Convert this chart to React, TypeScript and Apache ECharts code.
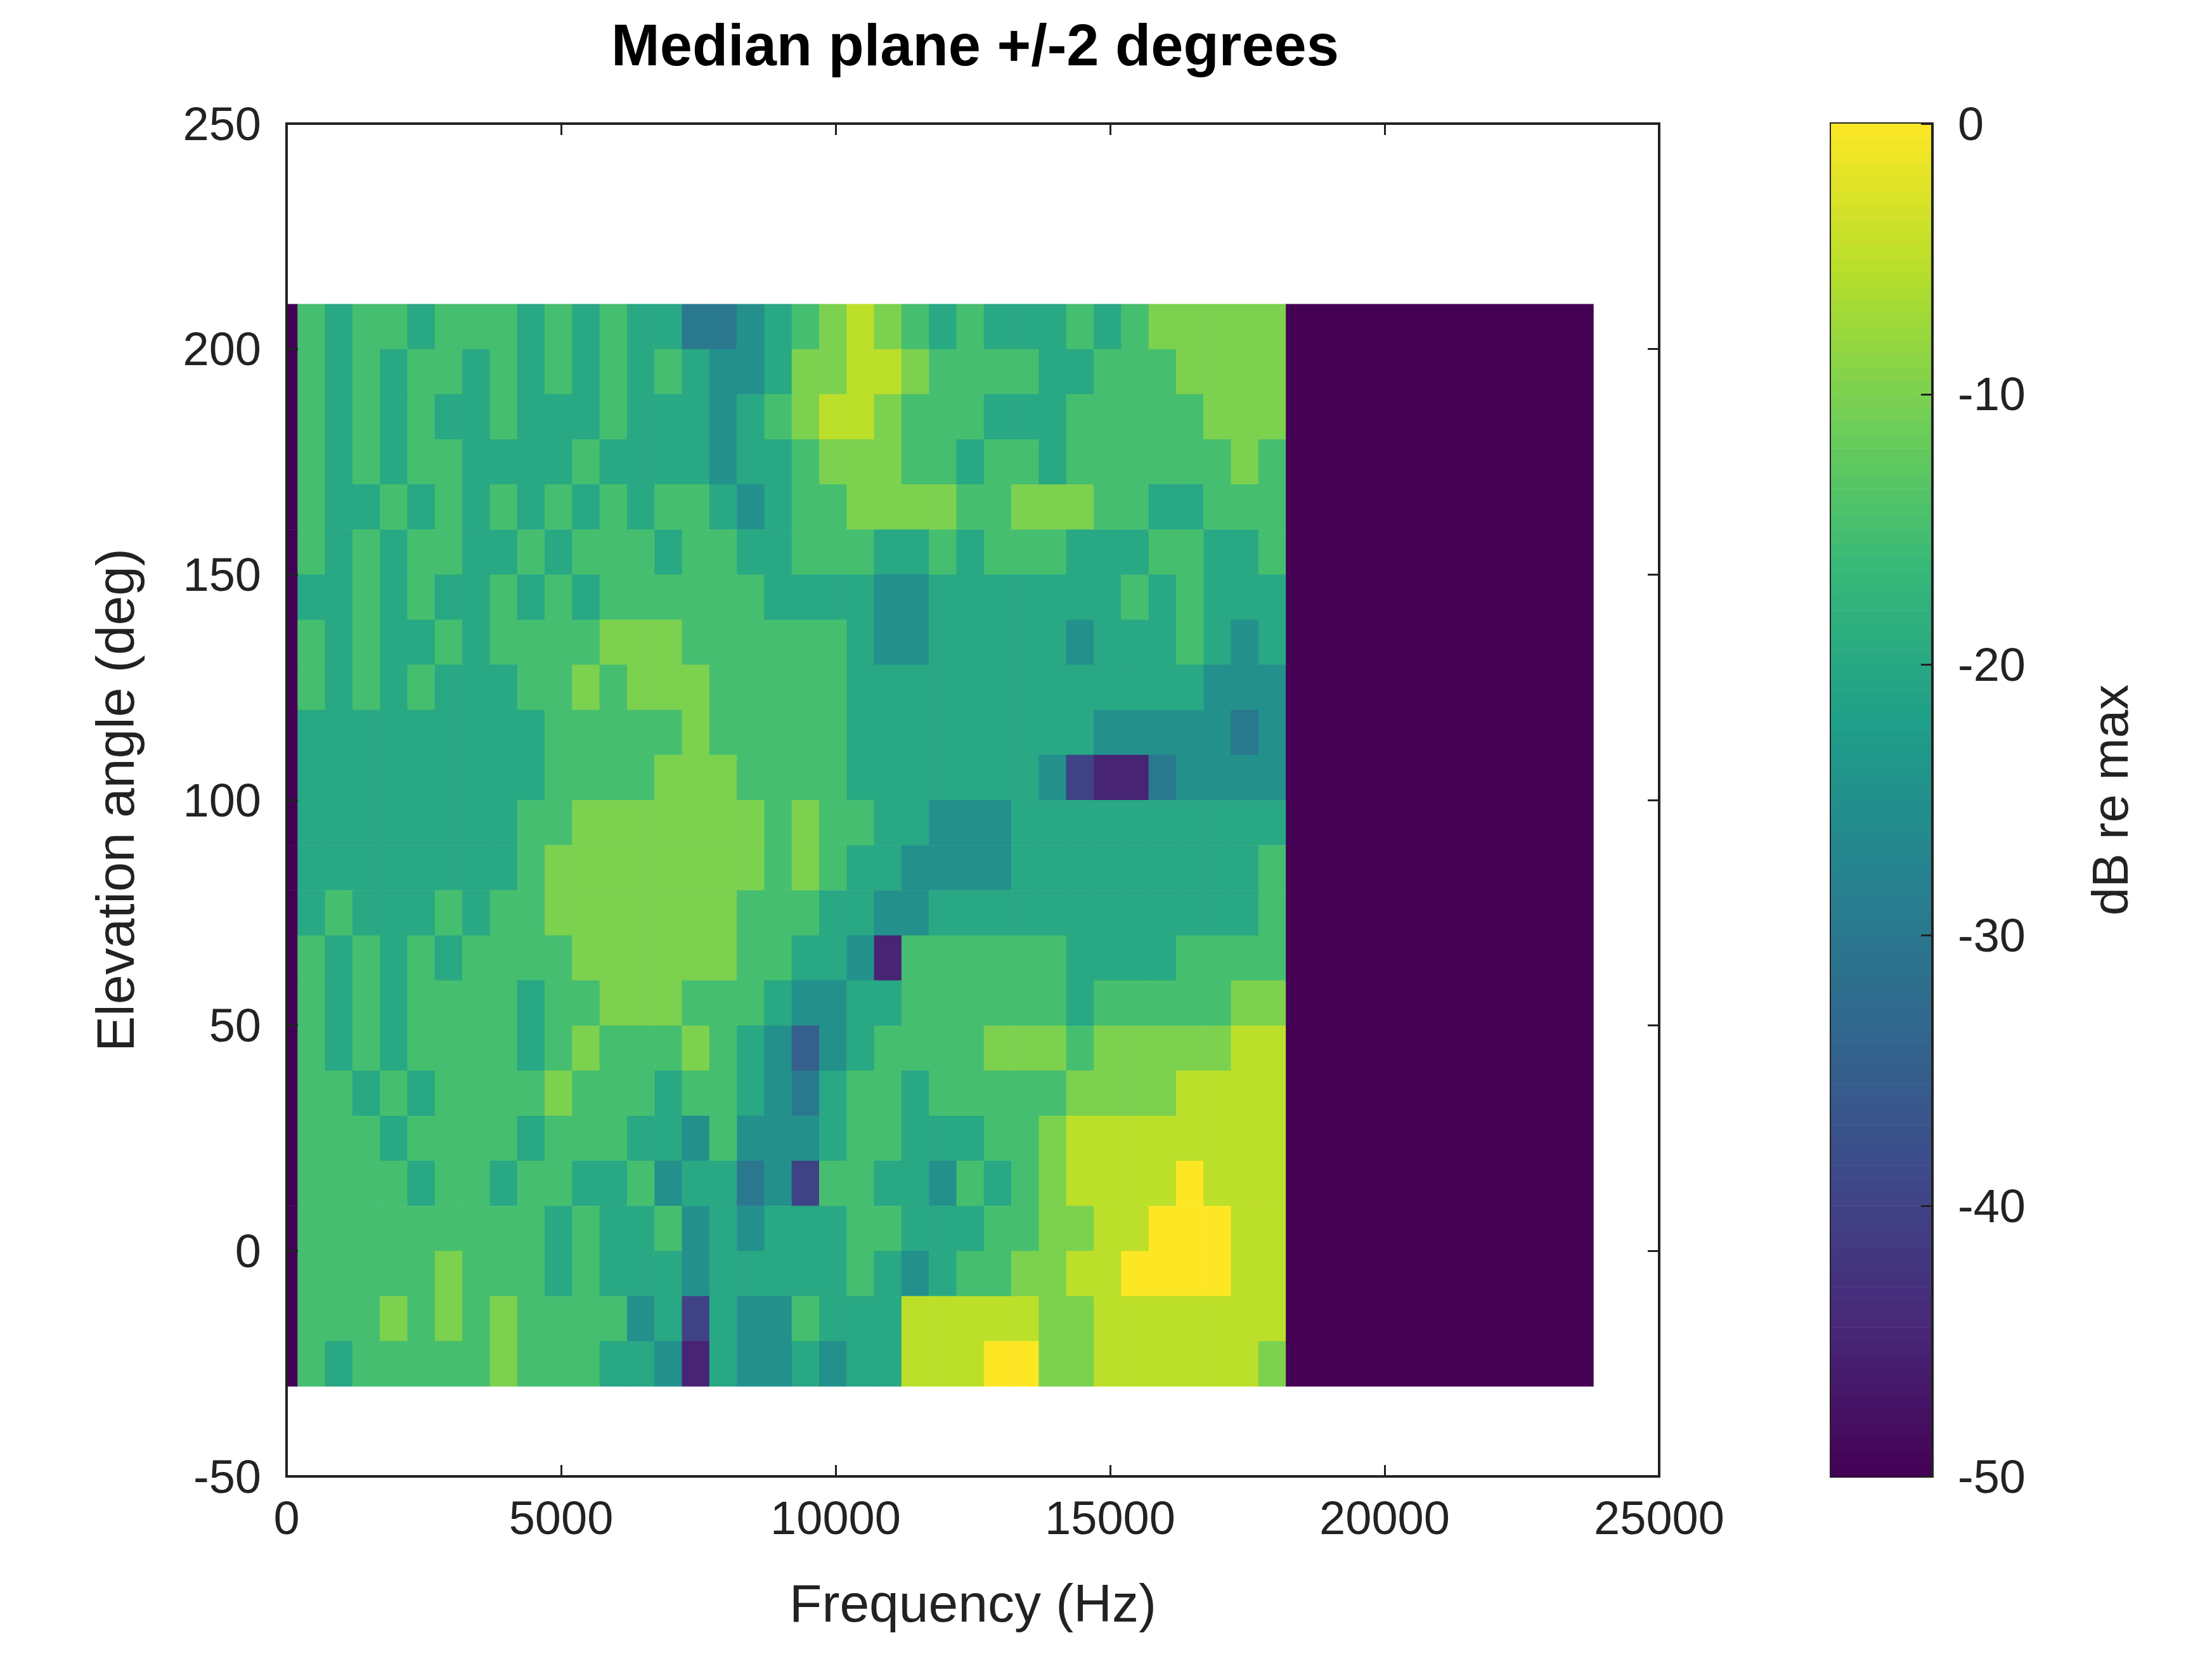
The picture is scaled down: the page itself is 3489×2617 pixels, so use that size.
import React, { useEffect, useRef } from "react";
import * as echarts from "echarts";

const title = "Median plane +/-2 degrees";
const freqStart = 200;
const freqStep = 500;
const rowLows = [200, 190, 180, 170, 160, 150, 140, 130, 120, 110, 100, 90, 80, 70, 60, 50, 40, 30, 20, 10, 0, -10, -20, -30];
// each digit d => -5*d dB
const rows = [
  "343343334343446654321234344434322222",
  "343433434343434554221123333443332222",
  "343434434443444543211233344433333222",
  "343433444434444544322233433433333323",
  "344343434343433454332222332223344333",
  "343433443433343344333443433344433443",
  "443434434343333334444554444444343444",
  "343443433332223333334554444454443454",
  "343434443323222333334444444444444555",
  "444444444333332333334444444445555565",
  "444444444333322233334444444589965555",
  "444444443322222223233445554444444444",
  "444444443222222223234455554444444443",
  "434443433222222233344554444444444443",
  "343434333322222233445933333344443333",
  "343433334332223334554433333343333322",
  "343433334323332345754333322232222211",
  "334343333233343345643343333322221111",
  "333433334333445355543344433211111111",
  "333343343344354465833445343211110111",
  "333333333434435454443344433221100011",
  "333332333434445444443454332211000011",
  "333232323333548455344411111221111111",
  "343333323334459455454411100221111112",
];
const lowEdgeDb = -50; // 0-200 Hz column
const darkBlock = [18200, 23800, -50];

const viridis = ["#440154", "#482878", "#3e4989", "#31688e", "#26828e", "#1f9e89", "#35b779", "#6ece58", "#b5de2b", "#fde725"];

export default function App() {
  const ref = useRef<HTMLDivElement>(null);
  useEffect(() => {
    const chart = echarts.init(ref.current!, undefined, { renderer: "svg" });
    const cells: number[][] = [];
    rows.forEach((r, i) => {
      const y0 = rowLows[i];
      cells.push([0, freqStart, y0, y0 + 10, lowEdgeDb]);
      for (let j = 0; j < r.length; j++) {
        const x0 = freqStart + j * freqStep;
        cells.push([x0, x0 + freqStep, y0, y0 + 10, -5 * Number(r[j])]);
      }
    });
    cells.push([darkBlock[0], darkBlock[1], -30, 210, darkBlock[2]]);
    const cb: number[][] = [];
    for (let v = -50; v < 0; v += 0.5) cb.push([0, 1, v, v + 0.5, v + 0.25]);

    const font = "Liberation Sans";
    const rect = (params: any, api: any) => {
      const p0 = api.coord([api.value(0), api.value(3)]);
      const p1 = api.coord([api.value(1), api.value(2)]);
      return {
        type: "rect",
        shape: { x: p0[0], y: p0[1], width: p1[0] - p0[0] + 0.6, height: p1[1] - p0[1] + 0.6 },
        style: { fill: api.visual("color") },
      };
    };
    const axisCommon = {
      z: 10,
      axisLine: { onZero: false, lineStyle: { color: "#222", width: 4 } },
      axisTick: { inside: true, length: 18, lineStyle: { color: "#222", width: 3 } },
      splitLine: { show: false },
    };
    const lbl = { fontFamily: font, fontSize: 74, color: "#222" };
    chart.setOption({
      animation: false,
      title: { text: title, left: 1525, top: 12, textAlign: "center", textStyle: { fontFamily: font, fontWeight: "bold", fontSize: 92, color: "#000" } },
      grid: [
        { left: 444, top: 187, width: 2165, height: 2134, show: true, borderColor: "#222", borderWidth: 4, z: 10 },
        { left: 2880, top: 187, width: 160, height: 2134, show: true, borderColor: "#222", borderWidth: 4 },
      ],
      visualMap: { show: false, min: -50, max: 0, dimension: 4, seriesIndex: [0, 1], inRange: { color: viridis } },
      xAxis: [
        { type: "value", gridIndex: 0, min: 0, max: 25000, interval: 5000, name: "Frequency (Hz)", nameLocation: "middle", nameGap: 158,
          nameTextStyle: { ...lbl, fontSize: 84 },
          axisLabel: { ...lbl, margin: 28, formatter: (v: number) => String(v) }, ...axisCommon },
        { type: "value", gridIndex: 0, position: "top", min: 0, max: 25000, interval: 5000, axisLabel: { show: false }, ...axisCommon },
        { type: "value", gridIndex: 1, min: 0, max: 1, show: false },
      ],
      yAxis: [
        { type: "value", gridIndex: 0, min: -50, max: 250, interval: 50, name: "Elevation angle (deg)", nameLocation: "middle", nameGap: 228,
          nameTextStyle: { ...lbl, fontSize: 84 },
          axisLabel: { ...lbl, margin: 40 }, ...axisCommon },
        { type: "value", gridIndex: 0, position: "right", min: -50, max: 250, interval: 50, axisLabel: { show: false }, ...axisCommon },
        { type: "value", gridIndex: 1, position: "right", min: -50, max: 0, interval: 10, name: "dB re max", nameLocation: "middle", nameGap: 240, nameRotate: 90,
          nameTextStyle: { ...lbl, fontSize: 80 },
          axisLabel: { ...lbl, margin: 40 }, ...axisCommon },
      ],
      series: [
        { type: "custom", xAxisIndex: 0, yAxisIndex: 0, renderItem: rect, data: cells, encode: { x: [0, 1], y: [2, 3] } },
        { type: "custom", xAxisIndex: 2, yAxisIndex: 2, renderItem: rect, data: cb, encode: { x: [0, 1], y: [2, 3] }, z: 1 },
      ],
    });
    return () => chart.dispose();
  }, []);
  return <div ref={ref} style={{ width: 3470, height: 2600 }} />;
}
